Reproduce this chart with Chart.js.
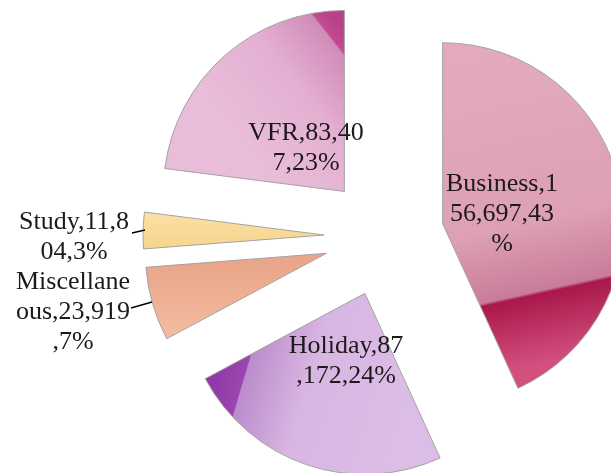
<!DOCTYPE html>
<html>
<head>
<meta charset="utf-8">
<script src="https://cdn.jsdelivr.net/npm/chart.js@4"></script>
<style>
  html, body { margin: 0; padding: 0; background: #fff; }
  #wrap { width: 611px; height: 473px; position: relative; }
</style>
</head>
<body>
<div id="wrap"><canvas id="pie"></canvas></div>
<script>
// dados
const categories = ['Business', 'Holiday', 'Miscellaneous', 'Study', 'VFR'];
const visitors = [156697, 87172, 23919, 11804, 83407];

// estilo
const explode = 60;      // distancia de cada fatia ate o centro
const pieRadius = 181;
const labelFont = '26px "Liberation Serif", "Times New Roman", serif';
const lineH = 30;
const wrapEm = 4.55;     // largura maxima da linha (em)
const labelPos = [
    { x: 502, y: 191 },
    { x: 346, y: 353 },
    { x: 73,  y: 289 },
    { x: 74,  y: 229 },
    { x: 306, y: 140 }
];
const leaders = {
    2: [131, 308, 152, 302],
    3: [132, 233, 145, 230]
};

const total = visitors.reduce((a, b) => a + b, 0);

let grads = null;
function makeGrads(ctx) {
    const g = [];
    // Business
    let lg = ctx.createLinearGradient(480, 60, 547, 362);
    lg.addColorStop(0, '#e3aabd');
    lg.addColorStop(0.55, '#dda0b5');
    lg.addColorStop(0.77, '#c97c99');
    lg.addColorStop(0.78, '#a9184b');
    lg.addColorStop(1, '#d24f7e');
    g.push(lg);
    // Holiday
    lg = ctx.createLinearGradient(200, 345, 400, 404);
    lg.addColorStop(0, '#8a30a0');
    lg.addColorStop(0.245, '#9a45b0');
    lg.addColorStop(0.25, '#bb8ccc');
    lg.addColorStop(0.55, '#d8b6e2');
    lg.addColorStop(1, '#dcbde6');
    g.push(lg);
    // Miscellaneous
    lg = ctx.createLinearGradient(0, 265, 0, 345);
    lg.addColorStop(0, '#eaa68a');
    lg.addColorStop(1, '#f4bea2');
    g.push(lg);
    // Study
    lg = ctx.createLinearGradient(0, 212, 0, 250);
    lg.addColorStop(0, '#fbe0a6');
    lg.addColorStop(1, '#f6d48b');
    g.push(lg);
    // VFR
    lg = ctx.createLinearGradient(230, 120, 345, 29);
    lg.addColorStop(0, '#e9bcd9');
    lg.addColorStop(0.5, '#e4b0d2');
    lg.addColorStop(0.88, '#d08cb8');
    lg.addColorStop(0.893, '#c14a90');
    lg.addColorStop(1, '#b8408a');
    g.push(lg);
    return g;
}

// quebra por caractere, como o Excel faz
function wrapText(ctx, text, maxW) {
    const lines = [];
    let cur = '';
    for (const ch of text) {
        if (cur && ctx.measureText(cur + ch).width > maxW) {
            lines.push(cur);
            cur = ch;
        } else {
            cur += ch;
        }
    }
    if (cur) lines.push(cur);
    return lines;
}

// afasta cada fatia do centro (o offset nativo do v4 tambem muda o raio)
const explodePlugin = {
    id: 'explode',
    afterUpdate(chart) {
        chart.getDatasetMeta(0).data.forEach(arc => {
            const mid = (arc.startAngle + arc.endAngle) / 2;
            arc.x += Math.cos(mid) * explode;
            arc.y += Math.sin(mid) * explode;
        });
    }
};

const labelPlugin = {
    id: 'sliceLabels',
    afterDatasetsDraw(chart) {
        const ctx = chart.ctx;
        ctx.save();
        ctx.font = labelFont;
        ctx.fillStyle = '#1e1a1c';
        ctx.textAlign = 'center';
        ctx.textBaseline = 'alphabetic';
        const maxW = 26 * wrapEm;
        categories.forEach((cat, i) => {
            const pct = Math.round(visitors[i] / total * 100);
            const txt = cat + ',' + visitors[i].toLocaleString('en-US') + ',' + pct + '%';
            const lines = wrapText(ctx, txt, maxW);
            lines.forEach((ln, k) => ctx.fillText(ln, labelPos[i].x, labelPos[i].y + k * lineH));
        });
        ctx.strokeStyle = '#000';
        ctx.lineWidth = 1.5;
        Object.values(leaders).forEach(l => {
            ctx.beginPath();
            ctx.moveTo(l[0], l[1]);
            ctx.lineTo(l[2], l[3]);
            ctx.stroke();
        });
        ctx.restore();
    }
};

new Chart(document.getElementById('pie'), {
    type: 'pie',
    data: {
        labels: categories,
        datasets: [{
            data: visitors,
            backgroundColor: (c) => {
                if (!grads) grads = makeGrads(c.chart.ctx);
                return grads[c.dataIndex];
            },
            borderColor: '#a3a3a3',
            borderWidth: 1,
            offset: 0,
            hoverOffset: 0,
            radius: pieRadius,
            clip: false
        }]
    },
    options: {
        responsive: true,
        maintainAspectRatio: false,
        animation: false,
        events: [],
        layout: { padding: { left: 157, right: 0, top: 0, bottom: 0 } },
        plugins: {
            legend: { display: false },
            tooltip: { enabled: false }
        }
    },
    plugins: [explodePlugin, labelPlugin]
});
</script>
</body>
</html>
